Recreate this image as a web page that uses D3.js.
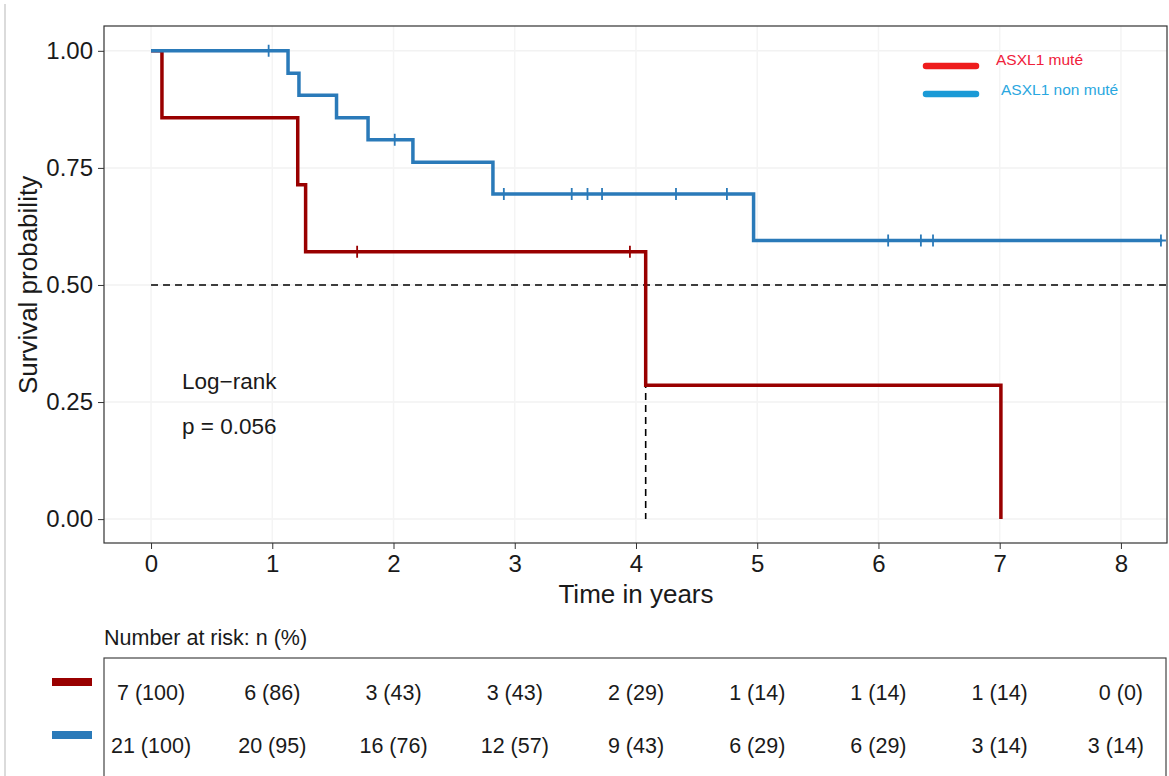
<!DOCTYPE html>
<html>
<head>
<meta charset="utf-8">
<script src="https://cdn.jsdelivr.net/npm/d3@7"></script>
<style>
  body { margin: 0; background: #fff; }
  text { font-family: "Liberation Sans", Arial, sans-serif; }
</style>
</head>
<body>
<div id="main"></div>
<script>
const ctx = { w: 1169, h: 776 };

// data
const groups = ["ASXL1 muté", "ASXL1 non muté"];
const yTicks = [0, 0.25, 0.5, 0.75, 1];
const xTicks = [0, 1, 2, 3, 4, 5, 6, 7, 8];

const mutTimes = [0, 0.09, 1.21, 1.275, 4.08, 7.01];
const mutSurv = [1, 0.857, 0.714, 0.571, 0.286, 0];
const mutEnd = 7.01;
const mutCensor = [1.70, 3.95];

const nonTimes = [0, 1.13, 1.22, 1.53, 1.79, 2.16, 2.82, 4.97];
const nonSurv = [1, 0.952, 0.905, 0.857, 0.81, 0.762, 0.6945, 0.595];
const nonEnd = 8.34;
const nonCensor = [0.97, 2.01, 2.91, 3.47, 3.60, 3.72, 4.33, 4.75, 6.08, 6.35, 6.45, 8.33];

const medianTime = 4.08;
const pValue = "p = 0.056";

const riskTimes = [0, 1, 2, 3, 4, 5, 6, 7, 8];
const mutRisk = ["7 (100)", "6 (86)", "3 (43)", "3 (43)", "2 (29)", "1 (14)", "1 (14)", "1 (14)", "0 (0)"];
const nonRisk = ["21 (100)", "20 (95)", "16 (76)", "12 (57)", "9 (43)", "6 (29)", "6 (29)", "3 (14)", "3 (14)"];

const lineColors = ["#990000", "#2a7ab9"];
const legendColors = ["#ee1c1c", "#1a9ad6"];
const legendText = ["#f0203a", "#2aa7e0"];

function survAt(times, surv, t) {
    let s = surv[0];
    times.forEach((d, i) => { if (d <= t) s = surv[i]; });
    return s;
}

function createViz() {
    const svg = d3.select("#main").append("svg")
        .attr("width", ctx.w)
        .attr("height", ctx.h);

    const panel = {left: 104, top: 26, right: 1167, bottom: 543};

    const x = d3.scaleLinear().domain([-0.388, 8.38]).range([panel.left, panel.right]);
    const y = d3.scaleLinear().domain([-0.051, 1.053]).range([panel.bottom, panel.top]);

    // page edge line
    svg.append("line")
        .attr("x1", 5).attr("x2", 5).attr("y1", 4).attr("y2", ctx.h)
        .attr("stroke", "#cfcfcf").attr("stroke-width", 1.5);

    // faint grid
    const grid = svg.append("g");
    grid.selectAll(".gy").data(yTicks).enter().append("line")
        .attr("x1", panel.left).attr("x2", panel.right)
        .attr("y1", d => y(d)).attr("y2", d => y(d))
        .attr("stroke", "#f2f2f2").attr("stroke-width", 1.5);
    grid.selectAll(".gx").data(xTicks).enter().append("line")
        .attr("y1", panel.top).attr("y2", panel.bottom)
        .attr("x1", d => x(d)).attr("x2", d => x(d))
        .attr("stroke", "#f4f4f4").attr("stroke-width", 1.5);

    // axes
    const yAxis = svg.append("g")
        .attr("transform", `translate(${panel.left},0)`)
        .call(d3.axisLeft(y).tickValues(yTicks).tickFormat(d3.format(".2f")).tickSize(6).tickPadding(5));
    const xAxis = svg.append("g")
        .attr("transform", `translate(0,${panel.bottom})`)
        .call(d3.axisBottom(x).tickValues(xTicks).tickFormat(d3.format("d")).tickSize(6).tickPadding(6));
    [yAxis, xAxis].forEach(a => {
        a.select(".domain").remove();
        a.selectAll(".tick line").attr("stroke", "#333");
        a.selectAll(".tick text")
         .style("font-size", "24px")
         .style("fill", "#1a1a1a");
    });

    // panel border
    svg.append("rect")
        .attr("x", panel.left).attr("y", panel.top)
        .attr("width", panel.right - panel.left).attr("height", panel.bottom - panel.top)
        .attr("fill", "none").attr("stroke", "#333").attr("stroke-width", 1.2);

    // axis titles
    svg.append("text")
        .attr("x", x(4)).attr("y", 603)
        .attr("text-anchor", "middle")
        .style("font-size", "26px").style("fill", "#1a1a1a")
        .text("Time in years");
    svg.append("text")
        .attr("transform", `translate(37,${y(0.5)}) rotate(-90)`)
        .attr("text-anchor", "middle")
        .style("font-size", "26px").style("fill", "#1a1a1a")
        .text("Survival probability");

    // median lines
    svg.append("line")
        .attr("x1", x(0)).attr("x2", panel.right)
        .attr("y1", y(0.5)).attr("y2", y(0.5))
        .attr("stroke", "#000").attr("stroke-width", 1.6).attr("stroke-dasharray", "7,5");
    svg.append("line")
        .attr("x1", x(medianTime)).attr("x2", x(medianTime))
        .attr("y1", y(0.5)).attr("y2", y(0))
        .attr("stroke", "#000").attr("stroke-width", 1.6).attr("stroke-dasharray", "7,5");

    // curves
    const line = d3.line().x(d => x(d[0])).y(d => y(d[1])).curve(d3.curveStepAfter);
    const curves = [
        {times: mutTimes, surv: mutSurv, end: mutEnd, censor: mutCensor},
        {times: nonTimes, surv: nonSurv, end: nonEnd, censor: nonCensor}
    ];
    curves.forEach((c, i) => {
        const pts = c.times.map((t, k) => [t, c.surv[k]]);
        pts.push([c.end, c.surv[c.surv.length - 1]]);
        svg.append("path")
            .attr("d", line(pts))
            .attr("fill", "none")
            .attr("stroke", lineColors[i])
            .attr("stroke-width", 3.5);
        const cg = svg.append("g");
        c.censor.forEach(t => {
            const cx = x(t), cy = y(survAt(c.times, c.surv, t));
            cg.append("path")
              .attr("d", `M${cx - 5},${cy}H${cx + 5}M${cx},${cy - 6}V${cy + 6}`)
              .attr("stroke", lineColors[i]).attr("stroke-width", 1.8);
        });
    });

    // log-rank annotation
    svg.append("text").attr("x", 182).attr("y", 389)
        .style("font-size", "22.5px").style("fill", "#1a1a1a").text("Log\u2212rank");
    svg.append("text").attr("x", 182).attr("y", 434)
        .style("font-size", "22.5px").style("fill", "#1a1a1a").text(pValue);

    // legend
    const legend = svg.append("g").attr("transform", "translate(924,66)");
    groups.forEach((g, i) => {
        const row = legend.append("g").attr("transform", `translate(0,${i * 28})`);
        row.append("line")
           .attr("x1", 2).attr("x2", 52)
           .attr("stroke", legendColors[i]).attr("stroke-width", 6.5).attr("stroke-linecap", "round");
        row.append("text")
           .attr("x", 72 + i * 5).attr("y", -1 + i * 1.5)
           .style("font-size", "15.5px").style("fill", legendText[i])
           .text(g);
    });

    // number at risk table
    svg.append("text").attr("x", 104).attr("y", 645)
        .style("font-size", "21.5px").style("fill", "#1a1a1a")
        .text("Number at risk: n (%)");
    const tbl = {left: 104, top: 658, right: 1166, bottom: 790};
    svg.append("rect")
        .attr("x", tbl.left).attr("y", tbl.top)
        .attr("width", tbl.right - tbl.left).attr("height", tbl.bottom - tbl.top)
        .attr("fill", "none").attr("stroke", "#444").attr("stroke-width", 1.2);

    const rowY = [700, 753];
    [mutRisk, nonRisk].forEach((vals, i) => {
        svg.append("line")
           .attr("x1", 52).attr("x2", 92)
           .attr("y1", rowY[i] - 18).attr("y2", rowY[i] - 18)
           .attr("stroke", lineColors[i]).attr("stroke-width", 8);
        vals.forEach((v, k) => {
            const t = svg.append("text")
                .attr("x", x(riskTimes[k]))
                .attr("y", rowY[i])
                .attr("text-anchor", "middle")
                .style("font-size", "21.5px").style("fill", "#1a1a1a")
                .text(v);
            const half = t.node().getComputedTextLength() / 2;
            if (x(riskTimes[k]) + half > tbl.right - 22) t.attr("x", tbl.right - 22 - half);
        });
    });
}

createViz();
</script>
</body>
</html>
